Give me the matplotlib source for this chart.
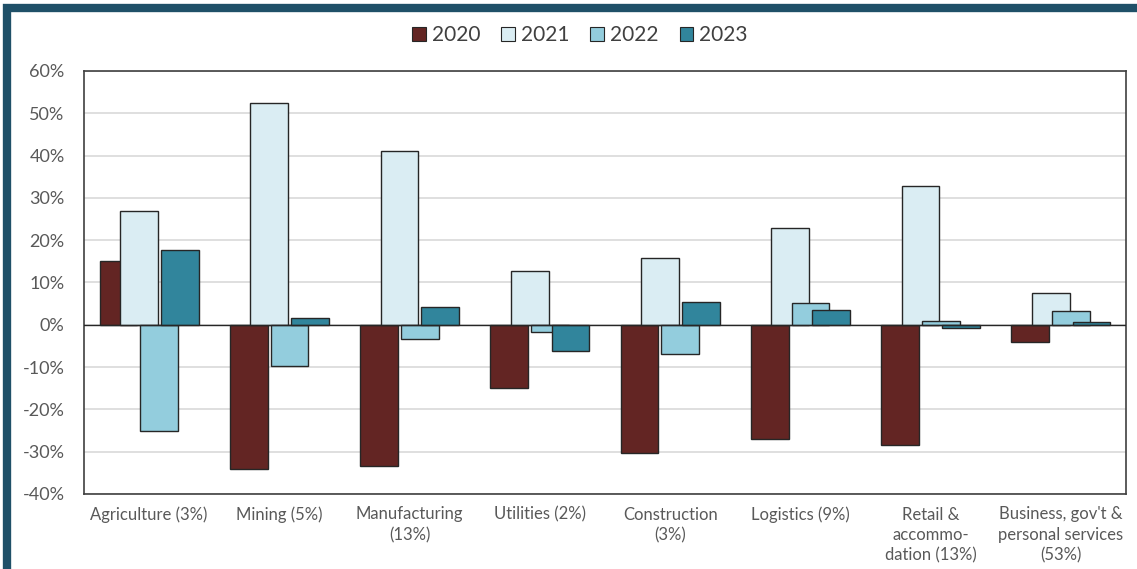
import matplotlib
matplotlib.use("Agg")
import matplotlib.pyplot as plt
import matplotlib.patches as mpatches
import numpy as np

categories = ["Agriculture (3%)", "Mining (5%)", "Manufacturing\n(13%)", "Utilities (2%)",
              "Construction\n(3%)", "Logistics (9%)", "Retail &\naccommo-\ndation (13%)",
              "Business, gov't &\npersonal services\n(53%)"]
series_names = ["2020", "2021", "2022", "2023"]
v2020 = [15.2, -34.2, -33.4, -15.0, -30.4, -27.1, -28.4, -4.1]
v2021 = [27.0, 52.5, 41.1, 12.8, 15.9, 22.9, 32.9, 7.6]
v2022 = [-25.2, -9.8, -3.3, -1.7, -6.9, 5.1, 1.0, 3.2]
v2023 = [17.7, 1.6, 4.3, -6.2, 5.3, 3.5, -0.8, 0.6]
yticks = [-40, -30, -20, -10, 0, 10, 20, 30, 40, 50, 60]

colors = ["#632523", "#daedf3", "#93cddd", "#31859c"]
plt.rcParams['font.family'] = ['Lato', 'DejaVu Sans']

fig = plt.figure(figsize=(11.37, 5.69), dpi=100)
ax = fig.add_axes([84/1137, 1-494/569, (1126-84)/1137, (494-71)/569])

x = np.arange(len(categories))
step = 0.157
width = 0.29
for i, (name, vals) in enumerate(zip(series_names, [v2020, v2021, v2022, v2023])):
    ax.bar(x + (i-1.5)*step, vals, width=width, color=colors[i], edgecolor="#262626",
           linewidth=1.0, label=name, zorder=3+i)

ax.set_xlim(-0.5, len(categories)-0.5)
ax.set_ylim(-40, 60)
ax.set_yticks(yticks)
ax.set_yticklabels([f"{t}%" for t in yticks], fontsize=13, color="#595959")
ax.set_xticks(x)
ax.set_xticklabels(categories, fontsize=12, color="#595959", linespacing=1.35)
ax.tick_params(axis='y', length=0, pad=14)
ax.tick_params(axis='x', length=0, pad=9)
ax.grid(axis='y', color="#d9d9d9", linewidth=1.2, zorder=0)
ax.axhline(0, color="#262626", linewidth=1.0, zorder=10)
for s in ax.spines.values():
    s.set_color("#404040")
    s.set_linewidth(1.2)

handles = [mpatches.Patch(facecolor=c, edgecolor="#262626", linewidth=0.8) for c in colors]
fig.legend(handles, series_names, loc="center", bbox_to_anchor=(580/1137, 1-35/569), ncol=4,
           frameon=False, fontsize=15, handlelength=0.65, handleheight=0.65,
           handletextpad=0.3, columnspacing=1.0, labelcolor="#404040")

border = mpatches.Rectangle((6.5/1137, -0.2), 2.0, 1.2 - 8/569, transform=fig.transFigure,
                            fill=False, edgecolor="#1f5068", linewidth=6, zorder=0)
fig.patches.append(border)

fig.savefig("out.png", dpi=100)
